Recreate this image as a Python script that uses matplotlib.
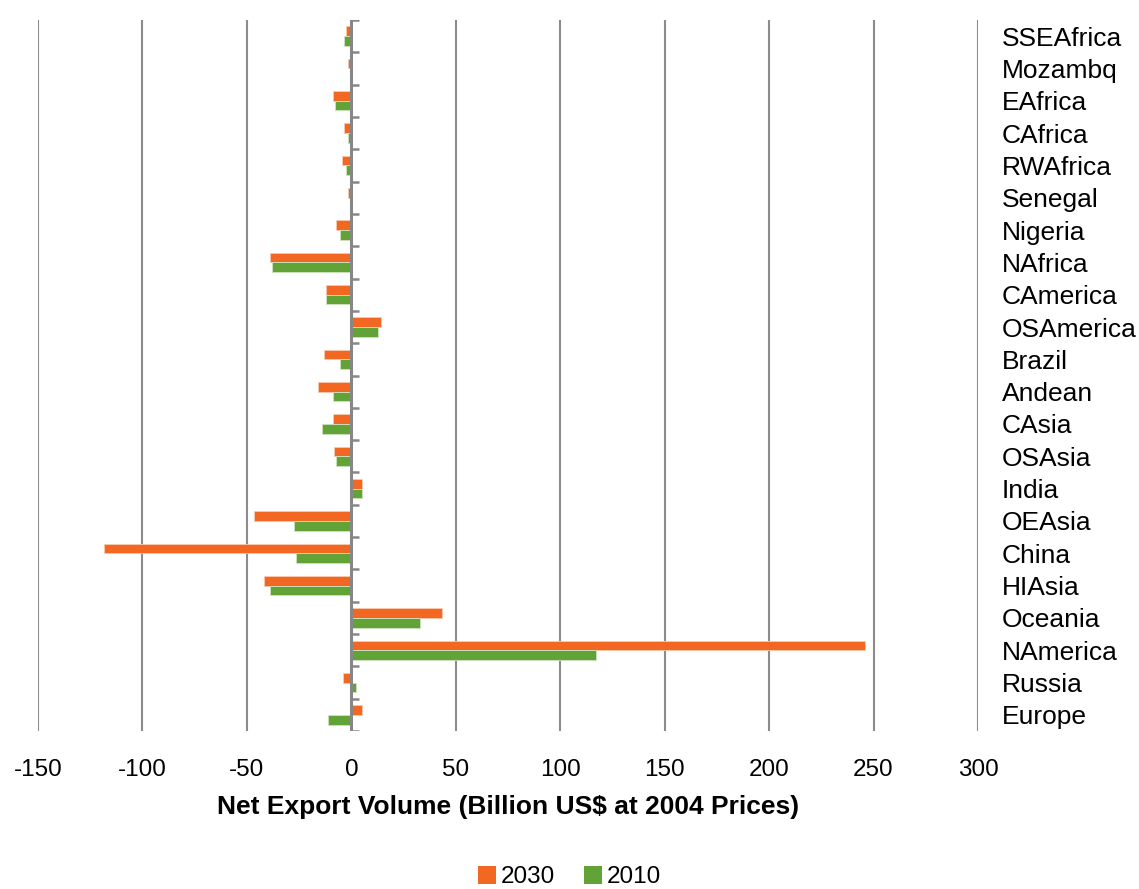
import numpy as np
import matplotlib
matplotlib.use('Agg')
import matplotlib.pyplot as plt
from matplotlib.patches import Patch

plt.rcParams['font.family'] = ['Liberation Sans', 'DejaVu Sans']

# categories bottom -> top
regions = ['Europe', 'Russia', 'NAmerica', 'Oceania', 'HIAsia', 'China', 'OEAsia',
           'India', 'OSAsia', 'CAsia', 'Andean', 'Brazil', 'OSAmerica', 'CAmerica',
           'NAfrica', 'Nigeria', 'Senegal', 'RWAfrica', 'CAfrica', 'EAfrica',
           'Mozambq', 'SSEAfrica']
v2030 = [5.3, -3.9, 246, 43.5, -41.7, -118.6, -46.5, 5.3, -8.3, -9, -16, -13,
         14, -12, -38.7, -7.2, -1.4, -4.3, -3.3, -9, -1.4, -2.4]
v2010 = [-11, 2, 117, 32.8, -38.8, -26.3, -27.3, 5.3, -7.2, -14, -9, -5.3,
         13, -12, -37.8, -5.3, -0.3, -2.4, -1.4, -8, -0.3, -3.3]
xticks = [-150, -100, -50, 0, 50, 100, 150, 200, 250, 300]

ORANGE = '#F26722'
GREEN = '#62A338'
GRID = '#8C8C8C'

fig = plt.figure(figsize=(11.39, 8.89), dpi=100)
ax = fig.add_axes([38 / 1139, 1 - 731 / 889, (978 - 38) / 1139, (731 - 20) / 889])

y = np.arange(len(regions))
h = 0.3
ax.barh(y + h / 2, v2030, height=h, color=ORANGE, edgecolor='#F9C9AE', linewidth=0.6, zorder=3)
ax.barh(y - h / 2, v2010, height=h, color=GREEN, edgecolor='#CDE3BF', linewidth=0.6, zorder=3)

ax.set_xlim(-150, 300)
ax.set_ylim(-0.5, len(regions) - 0.5)

# vertical gridlines
for xv in xticks:
    if xv != 0:
        ax.axvline(xv, color=GRID, lw=1.5, zorder=1)
# category axis at zero with tick marks between categories
ax.axvline(0, color='#878787', lw=2.2, zorder=4)
for b in np.arange(len(regions) + 1) - 0.5:
    ax.plot([0, 3.9], [b, b], color='#878787', lw=1.8, zorder=4, solid_capstyle='butt')

for s in ax.spines.values():
    s.set_visible(False)

ax.set_xticks(xticks)
ax.set_xticklabels([str(v) for v in xticks], fontsize=17.5)
ax.tick_params(axis='x', length=0, pad=20)

ax.set_yticks(y)
ax.set_yticklabels(regions, fontsize=19, ha='left')
ax.yaxis.tick_right()
ax.tick_params(axis='y', length=0, pad=17)

ax.set_xlabel('Net Export Volume (Billion US$ at 2004 Prices)', fontsize=19,
              fontweight='bold', labelpad=10)

handles = [Patch(facecolor=ORANGE, label='2030'), Patch(facecolor=GREEN, label='2010')]
fig.legend(handles=handles, loc='center', bbox_to_anchor=(0.5, 0.0135), ncol=2,
           frameon=False, fontsize=17.5, handlelength=0.75, handleheight=0.75,
           handletextpad=0.2, columnspacing=1.2)

fig.savefig('out.png', dpi=100)
